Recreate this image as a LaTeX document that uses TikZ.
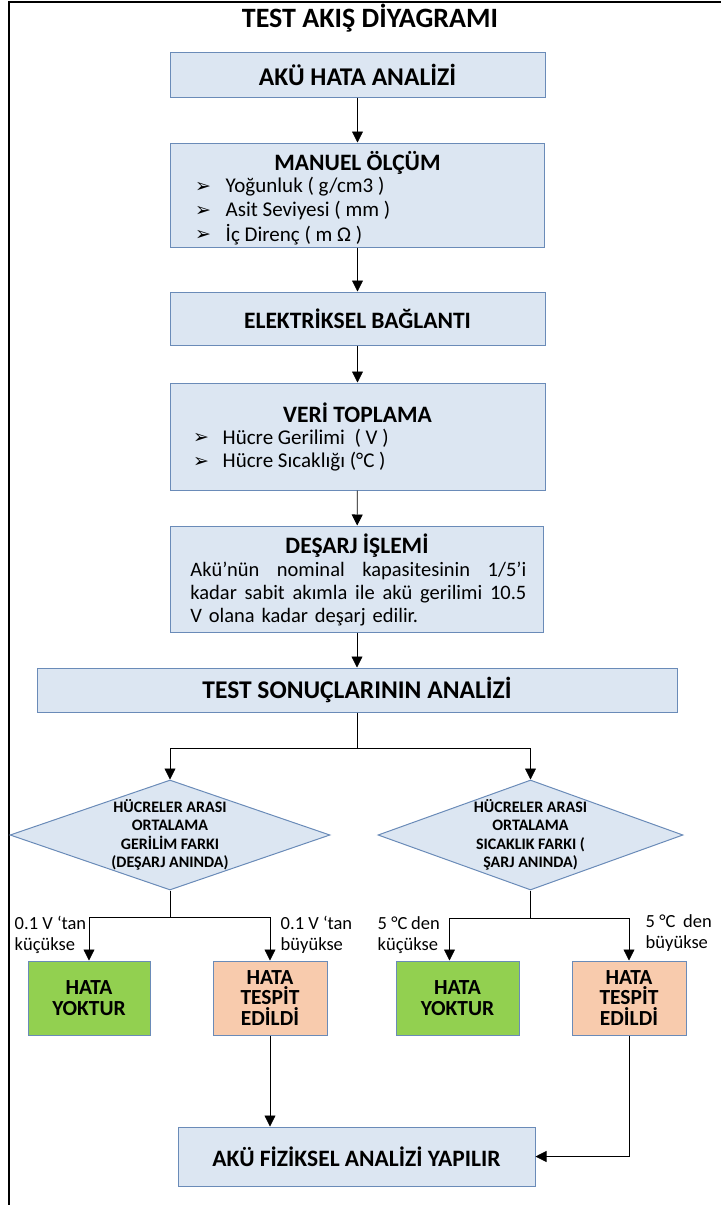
\documentclass[tikz,border=0pt]{standalone}
\usepackage{fontspec}
\setmainfont{Carlito}
\newfontfamily\symfont{DejaVu Sans}
\usetikzlibrary{shapes,arrows.meta,positioning}
\definecolor{boxfill}{HTML}{DCE6F2}
\definecolor{boxline}{HTML}{6A8BB8}
\definecolor{okfill}{HTML}{92D050}
\definecolor{errfill}{HTML}{F8CBAD}

\begin{document}
\begin{tikzpicture}[x=1pt,y=-1pt,
>={Triangle[length=11pt,width=11pt]},
every path/.style={line width=0.8pt},
stepbox/.style={rectangle, draw=boxline, line width=1pt, fill=boxfill, inner sep=0pt, font=\bfseries\fontsize{23.5}{26}\selectfont},
bigbox/.style={stepbox, font=\bfseries\fontsize{25.5}{28}\selectfont},
boxtitle/.style={font=\bfseries\fontsize{23.5}{26}\selectfont},
decision/.style={diamond, draw=boxline, line width=1pt, fill=boxfill, inner sep=0pt, minimum height=110pt},
decisiontext/.style={align=center, font=\bfseries\fontsize{16}{18.5}\selectfont},
okbox/.style={rectangle, draw=boxline, line width=1pt, fill=okfill, minimum width=122pt, minimum height=74pt, align=center, font=\bfseries\fontsize{21.5}{21}\selectfont},
errbox/.style={rectangle, draw=boxline, line width=1pt, fill=errfill, minimum width=114pt, minimum height=74pt, align=center, font=\bfseries\fontsize{21.5}{20.5}\selectfont},
bullet/.style={font=\symfont\fontsize{19}{20}\selectfont},
item/.style={anchor=west, font=\fontsize{21}{24}\selectfont},
branch/.style={align=left, anchor=west, font=\fontsize{18.5}{21}\selectfont},
]
\useasboundingbox (0,0) rectangle (721,1205);
\draw[line width=1.5pt] (9,1205) -- (9,2) -- (721,2);

\node at (370,18) (title) [font=\bfseries\fontsize{28}{30}\selectfont]{TEST AKIŞ DİYAGRAMI};

\node at (357.5,74.5) [bigbox, minimum width=375pt, minimum height=45pt](aku_hata){AKÜ HATA ANALİZİ};

\node at (357.5,195) [stepbox, minimum width=374pt, minimum height=104pt](manuel){};
\node at (357.5,163) [boxtitle](manuel_title){MANUEL ÖLÇÜM};
\node at (203,187) [bullet](manuel_b1){➢};
\node at (222,187) [item](manuel_i1){Yoğunluk ( g/cm3 )};
\node at (203,211) [bullet](manuel_b2){➢};
\node at (222,211) [item](manuel_i2){Asit Seviyesi ( mm )};
\node at (203,235) [bullet](manuel_b3){➢};
\node at (222,235) [item](manuel_i3){İç Direnç ( m Ω )};

\node at (357.5,318.5) [stepbox, minimum width=375pt, minimum height=53pt](baglanti){ELEKTRİKSEL BAĞLANTI};

\node at (357.5,436.5) [stepbox, minimum width=375pt, minimum height=107pt](veri){};
\node at (357.5,413) [boxtitle](veri_title){VERİ TOPLAMA};
\node at (201,438) [bullet](veri_b1){➢};
\node at (219,438) [item](veri_i1){Hücre Gerilimi ~( V )};
\node at (201,462) [bullet](veri_b2){➢};
\node at (219,462) [item](veri_i2){Hücre Sıcaklığı (°C )};

\node at (357,579) [stepbox, minimum width=373pt, minimum height=106pt](desarj){};
\node at (357,546) [boxtitle](desarj_title){DEŞARJ İŞLEMİ};
\node at (190,594) [anchor=west, inner sep=0pt, text width=336pt, align=left, font=\fontsize{20.5}{23}\selectfont](desarj_text){\makebox[336pt][l]{Akü’nün\hfill nominal\hfill kapasitesinin\hfill 1/5’i}\\
\makebox[336pt][l]{kadar\hfill sabit\hfill akımla\hfill ile\hfill akü\hfill gerilimi\hfill 10.5}\\
\makebox[336pt][l]{V olana kadar deşarj edilir.}};

\node at (357,690) [bigbox, minimum width=640pt, minimum height=44pt](sonuc){TEST SONUÇLARININ ANALİZİ};

\node at (170,835) [decision, minimum width=320pt](gerilim){};
\node at (170,835) [decisiontext](gerilim_text){HÜCRELER ARASI\\ORTALAMA\\GERİLİM FARKI\\(DEŞARJ ANINDA)};
\node at (530.5,835) [decision, minimum width=305pt](sicaklik){};
\node at (530.5,835) [decisiontext](sicaklik_text){HÜCRELER ARASI\\ORTALAMA\\SICAKLIK FARKI (\\ŞARJ ANINDA)};

\node at (89,998) [okbox](yoktur_left){HATA\\YOKTUR};
\node at (270,998) [errbox](tespit_left){HATA\\TESPİT\\EDİLDİ};
\node at (457.5,998) [okbox, minimum width=123pt](yoktur_right){HATA\\YOKTUR};
\node at (629,998) [errbox](tespit_right){HATA\\TESPİT\\EDİLDİ};

\node at (11,935) [branch](kucuk_left){0.1 V ‘tan\\küçükse};
\node at (277,935) [branch](buyuk_left){0.1 V ‘tan\\büyükse};
\node at (374,935) [branch](kucuk_right){\makebox[62pt][l]{5 °C\hfill den}\\küçükse};
\node at (642,933) [branch](buyuk_right){\makebox[66pt][l]{5 °C\hfill den}\\büyükse};

\node at (356.5,1156.5) [stepbox, minimum width=357pt, minimum height=59pt](fiziksel){AKÜ FİZİKSEL ANALİZİ YAPILIR};

\draw[->] (aku_hata) -- (manuel);
\draw[->] (manuel) -- (baglanti);
\draw[->] (baglanti) -- (veri);
\draw[->] (veri) -- (desarj);
\draw[->] (desarj) -- (sonuc);

\coordinate (sonuc_split) at (357,748);
\draw (sonuc.south) -- (sonuc_split);
\draw[->] (sonuc_split) -| (gerilim.north);
\draw[->] (sonuc_split) -| (sicaklik.north);

\coordinate (gerilim_split) at (170,917);
\draw (gerilim.south) -- (gerilim_split);
\draw[->] (gerilim_split) -| (yoktur_left.north);
\draw[->] (gerilim_split) -| (tespit_left.north);

\coordinate (sicaklik_split) at (530.5,918);
\draw (sicaklik.south) -- (sicaklik_split);
\draw[->] (sicaklik_split) -| ([xshift=-8pt]yoktur_right.north);
\draw[->] (sicaklik_split) -| (tespit_right.north);

\draw[->] (tespit_left.south) -- (tespit_left.south |- fiziksel.north);
\draw[->] (tespit_right.south) |- (fiziksel.east);

\end{tikzpicture}
\end{document}
